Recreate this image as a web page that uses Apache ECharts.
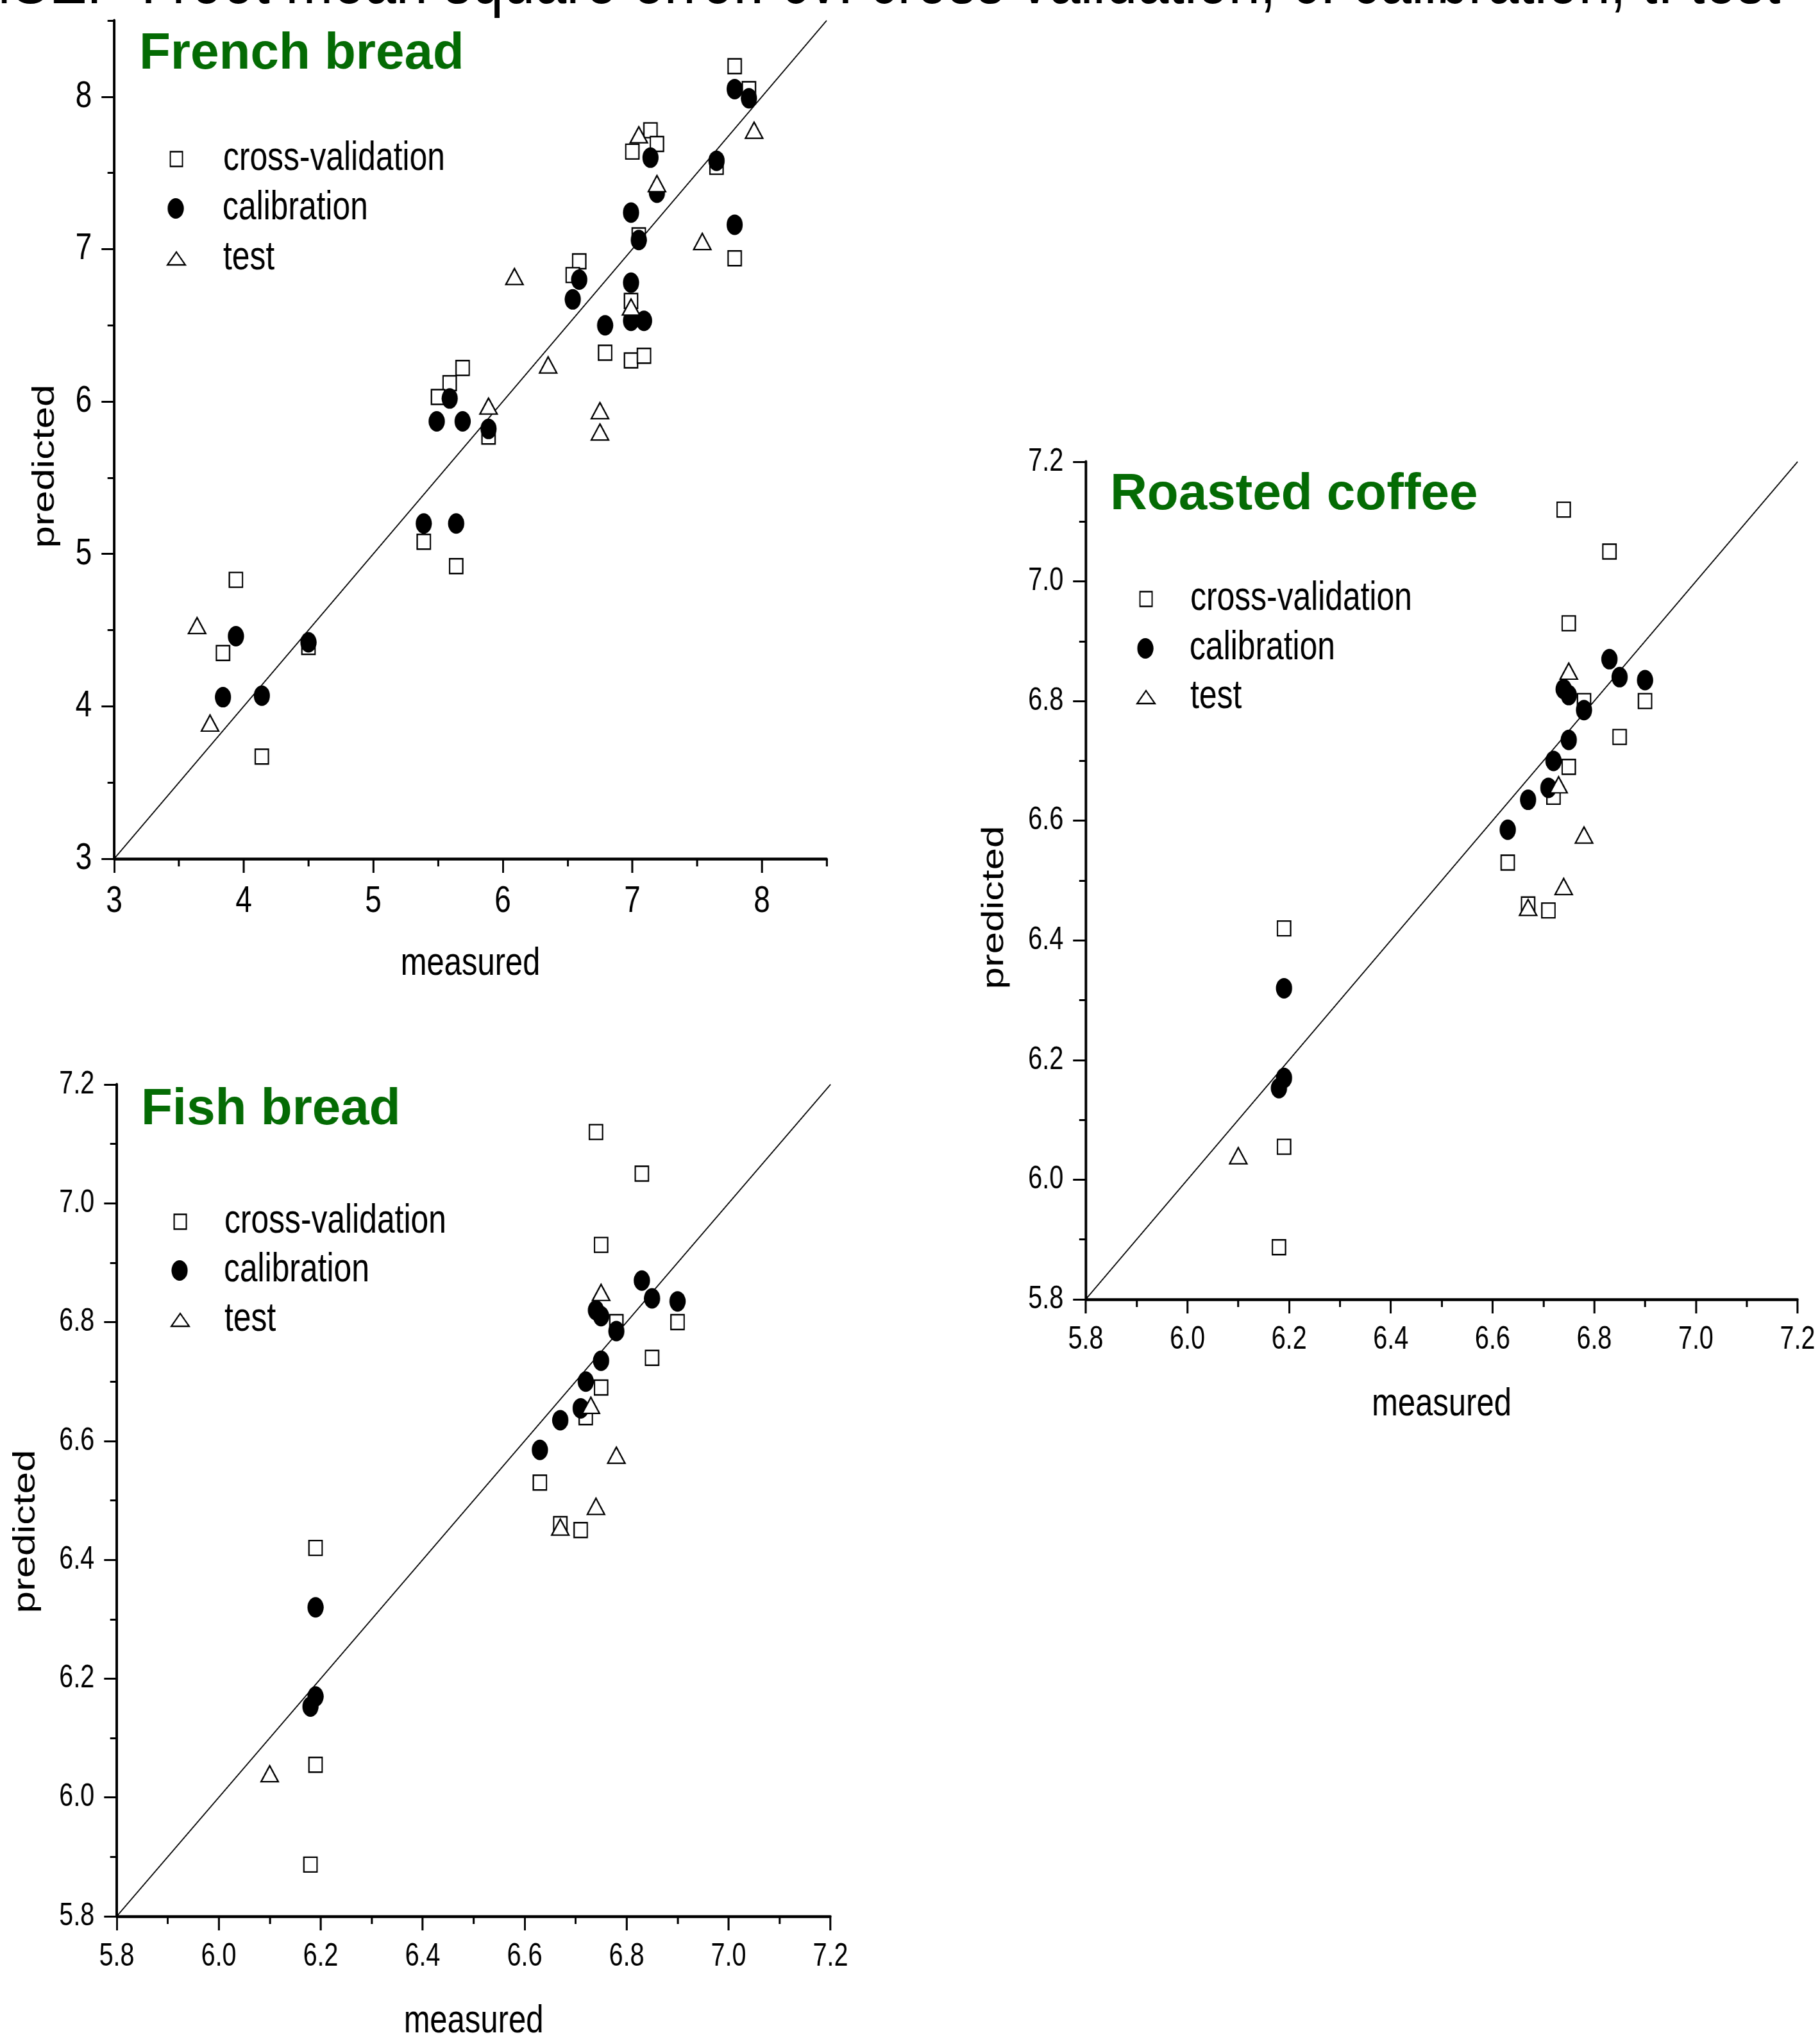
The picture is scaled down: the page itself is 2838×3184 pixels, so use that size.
<!DOCTYPE html>
<html>
<head>
<meta charset="utf-8">
<script src="https://cdn.jsdelivr.net/npm/echarts@6/dist/echarts.min.js"></script>
<style>
html,body{margin:0;padding:0;overflow:hidden;background:#fff;width:2838px;height:3184px;}
#c{position:absolute;left:0;top:0;width:3593px;height:3184px;transform:scaleX(0.79);transform-origin:0 0;}
</style>
</head>
<body>
<div id="c"></div>
<script>
// ---------- data ----------
const seriesNames = ['cross-validation', 'calibration', 'test'];

const frenchCv = [[7.79,8.20],[7.90,8.05],[7.14,7.78],[7.19,7.69],[7.00,7.64],[7.65,7.54],[7.79,6.94],[7.05,7.09],[6.59,6.92],[6.54,6.83],[6.99,6.66],[6.79,6.32],[6.99,6.27],[7.09,6.30],[5.69,6.22],[5.59,6.12],[5.50,6.03],[5.89,5.77],[5.39,5.08],[5.64,4.92],[3.94,4.83],[3.84,4.35],[4.50,4.39],[4.14,3.67]];
const frenchCal = [[7.79,8.05],[7.90,7.99],[7.14,7.60],[7.65,7.58],[7.19,7.37],[6.99,7.24],[7.79,7.16],[7.05,7.06],[6.59,6.80],[6.54,6.67],[6.99,6.78],[6.79,6.50],[6.99,6.53],[7.09,6.53],[5.59,6.02],[5.49,5.87],[5.69,5.87],[5.89,5.82],[5.39,5.20],[5.64,5.20],[3.94,4.46],[4.50,4.42],[3.84,4.06],[4.14,4.07]];
const frenchTest = [[7.05,7.75],[7.94,7.78],[7.19,7.43],[7.54,7.05],[6.09,6.82],[6.35,6.24],[5.89,5.97],[6.75,5.94],[6.75,5.80],[6.99,6.62],[3.64,4.53],[3.74,3.89]];
const frenchDiag = [[3,3],[8.5,8.5]];
const frenchMajor = [3,4,5,6,7,8];
const frenchMinor = [3.5,4.5,5.5,6.5,7.5,8.5];

const coffeeCv = [[6.74,7.12],[6.83,7.05],[6.75,6.93],[6.78,6.80],[6.90,6.80],[6.85,6.74],[6.75,6.69],[6.72,6.64],[6.63,6.53],[6.67,6.46],[6.71,6.45],[6.19,6.42],[6.19,6.055],[6.18,5.887]];
const coffeeCal = [[6.83,6.87],[6.85,6.84],[6.90,6.835],[6.74,6.82],[6.75,6.81],[6.78,6.785],[6.75,6.735],[6.72,6.70],[6.71,6.655],[6.67,6.635],[6.63,6.585],[6.19,6.32],[6.19,6.17],[6.18,6.153]];
const coffeeTest = [[6.75,6.85],[6.73,6.66],[6.78,6.576],[6.74,6.49],[6.67,6.455],[6.10,6.04]];
const coffeeDiag = [[5.8,5.8],[7.2,7.2]];

const fishCv = [[6.74,7.12],[6.83,7.05],[6.75,6.93],[6.78,6.80],[6.90,6.80],[6.85,6.74],[6.75,6.69],[6.72,6.64],[6.63,6.53],[6.67,6.46],[6.71,6.45],[6.19,6.42],[6.19,6.055],[6.18,5.887]];
const fishCal = [[6.83,6.87],[6.85,6.84],[6.90,6.835],[6.74,6.82],[6.75,6.81],[6.78,6.785],[6.75,6.735],[6.72,6.70],[6.71,6.655],[6.67,6.635],[6.63,6.585],[6.19,6.32],[6.19,6.17],[6.18,6.153]];
const fishTest = [[6.75,6.85],[6.73,6.66],[6.78,6.576],[6.74,6.49],[6.67,6.455],[6.10,6.04]];
const fishDiag = [[5.8,5.8],[7.2,7.2]];

const smallMajor = [5.8,6.0,6.2,6.4,6.6,6.8,7.0,7.2];
const smallMinor = [5.9,6.1,6.3,6.5,6.7,6.9,7.1];

const titles = ['French bread', 'Roasted coffee', 'Fish bread'];
const caption = 'RMSEP : root mean square error. cv: cross validation, c: calibration, t: test';
const xName = 'measured';
const yName = 'predicted';

// ---------- layout helpers (screen px -> unscaled canvas px) ----------
const S = 0.79;
const ux = v => v / S;
const FONT = '"Liberation Sans", Arial, Helvetica, sans-serif';
const BLACK = '#000';
const GREEN = '#046b04';

const plots = [
  {x0:178, x1:1289, y0:32, y1:1339, min:3, max:8.5, major:frenchMajor, minor:frenchMinor, fmt: v => String(v), tickFont:58,
   cv:frenchCv, cal:frenchCal, test:frenchTest, diag:frenchDiag,
   legX:274, legY:[248,325,403], legText:347, title:[217,85], yname:[70,727]},
  {x0:1693, x1:2803, y0:720, y1:2026, min:5.8, max:7.2, major:smallMajor, minor:smallMinor, fmt: v => v.toFixed(1), tickFont:50,
   cv:coffeeCv, cal:coffeeCal, test:coffeeTest, diag:coffeeDiag,
   legX:1786, legY:[934,1011,1087], legText:1855, title:[1731,772], yname:[1551,1415]},
  {x0:182, x1:1295, y0:1691, y1:2997, min:5.8, max:7.2, major:smallMajor, minor:smallMinor, fmt: v => v.toFixed(1), tickFont:50,
   cv:fishCv, cal:fishCal, test:fishTest, diag:fishDiag,
   legX:280, legY:[1905,1981,2058], legText:349, title:[220,1731], yname:[40,2388]}
];

const grid = [], xAxis = [], yAxis = [], series = [], legend = [], graphic = [];

const styles = [
  {symbol:'rect', size:[26,23], item:{color:'#fff', borderColor:BLACK, borderWidth:2.6, opacity:1}, icon:[24,23]},
  {symbol:'circle', size:32, item:{color:BLACK, borderWidth:0, opacity:1}, icon:[32,32]},
  {symbol:'triangle', size:[34,25], item:{color:'#fff', borderColor:BLACK, borderWidth:2.6, opacity:1}, icon:[35,20]}
];

plots.forEach((p, i) => {
  grid.push({left: ux(p.x0), top: p.y0, width: ux(p.x1) - ux(p.x0), height: p.y1 - p.y0, containLabel:false});
  const xi = xAxis.length, yi = yAxis.length;
  xAxis.push({
    gridIndex:i, type:'value', min:p.min, max:p.max, position:'bottom',
    axisLine:{show:true, onZero:false, lineStyle:{color:BLACK, width:4.5}},
    axisTick:{show:true, customValues:p.major, length:22, lineStyle:{color:BLACK, width:3.8}},
    axisLabel:{show:true, customValues:p.major, formatter:p.fmt, fontSize:p.tickFont, fontFamily:FONT, color:BLACK, margin:38},
    splitLine:{show:false},
    name:xName, nameLocation:'middle', nameGap:133,
    nameTextStyle:{fontSize:62, fontFamily:FONT, color:BLACK}
  });
  xAxis.push({
    gridIndex:i, type:'value', min:p.min, max:p.max, position:'bottom',
    axisLine:{show:false}, axisLabel:{show:false}, splitLine:{show:false},
    axisTick:{show:true, customValues:p.minor, length:12, lineStyle:{color:BLACK, width:3.8}}
  });
  yAxis.push({
    gridIndex:i, type:'value', min:p.min, max:p.max, position:'left',
    axisLine:{show:true, onZero:false, lineStyle:{color:BLACK, width:5}},
    axisTick:{show:true, customValues:p.major, length:25, lineStyle:{color:BLACK, width:3}},
    axisLabel:{show:true, customValues:p.major, formatter:p.fmt, fontSize:p.tickFont, fontFamily:FONT, color:BLACK, margin:44},
    splitLine:{show:false}
  });
  yAxis.push({
    gridIndex:i, type:'value', min:p.min, max:p.max, position:'left', offset:0,
    axisLine:{show:false}, axisLabel:{show:false}, splitLine:{show:false},
    axisTick:{show:true, customValues:p.minor, length:13, lineStyle:{color:BLACK, width:3}}
  });

  series.push({type:'line', xAxisIndex:xi, yAxisIndex:yi, data:p.diag, symbol:'none', silent:true,
    lineStyle:{color:BLACK, width:2}, z:1});
  [p.cv, p.cal, p.test].forEach((d, k) => {
    series.push({type:'scatter', name:seriesNames[k], xAxisIndex:xi, yAxisIndex:yi, data:d,
      symbol:styles[k].symbol, symbolSize:styles[k].size, itemStyle:styles[k].item, z:2+k,
      emphasis:{disabled:true}});
  });

  // legend rows
  seriesNames.forEach((nm, k) => {
    const iw = styles[k].icon[0], ih = styles[k].icon[1];
    const left = ux(p.legX) - iw / 2;
    const pad = ux(p.legText) - (left + iw + 5);
    legend.push({
      data:[nm], orient:'vertical', left:left, top:p.legY[k] - 31.5, padding:0, itemGap:0,
      itemWidth:iw, itemHeight:ih, icon:styles[k].symbol, selectedMode:false,
      itemStyle:styles[k].item,
      textStyle:{fontSize:63, fontFamily:FONT, color:BLACK, lineHeight:63, padding:[0,0,0,pad]}
    });
  });

  graphic.push({type:'text', x:ux(p.title[0]), y:p.title[1], scaleX:1/S, silent:true,
    style:{text:titles[i], font:'bold 80px ' + FONT, fill:GREEN, textAlign:'left', textVerticalAlign:'middle'}});
  graphic.push({type:'text', x:ux(p.yname[0]), y:p.yname[1], rotation:Math.PI/2, silent:true,
    style:{text:yName, font:'62px ' + FONT, fill:BLACK, textAlign:'center', textVerticalAlign:'middle'}});
});

graphic.push({type:'text', x:ux(-120), y:-26, silent:true,
  style:{text:caption, font:'112px ' + FONT, fill:BLACK, textAlign:'left', textVerticalAlign:'middle'}});

const chart = echarts.init(document.getElementById('c'), null, {renderer:'canvas', width:3593, height:3184});
chart.setOption({
  animation:false,
  backgroundColor:'#fff',
  grid, xAxis, yAxis, series, legend, graphic
});
</script>
</body>
</html>
